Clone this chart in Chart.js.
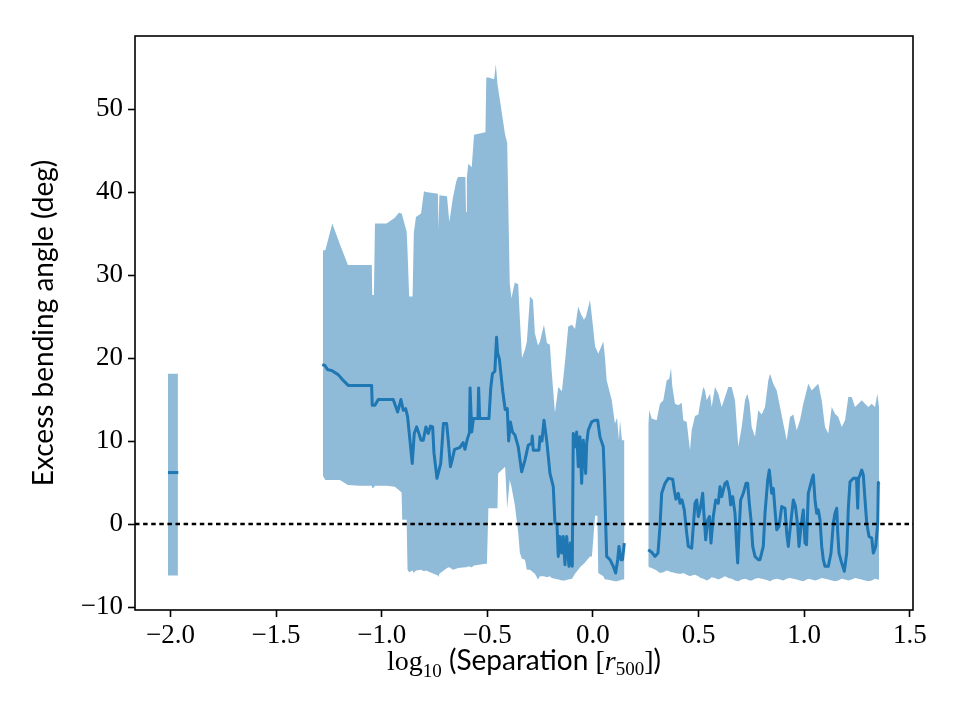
<!DOCTYPE html>
<html><head><meta charset="utf-8">
<script src="https://cdn.jsdelivr.net/npm/chart.js@4/dist/chart.umd.min.js"></script>
<style>html,body{margin:0;padding:0;background:#fff}</style>
</head><body>
<canvas id="c" width="960" height="720"></canvas>
<script>
// ---------- data (x = log10 separation, y = excess bending angle in deg) ----------
const bandAX = [-2.012, -1.965];
const bandAUpper = [18.1, 18.1];
const bandALower = [-6.2, -6.2];
const meanAX = [-2.012, -1.963];
const meanAY = [6.2, 6.2];

const bandBX = [-1.278,-1.267,-1.234,-1.198,-1.160,-1.103,-1.047,-1.045,-1.037,-1.032,-0.977,-0.938,-0.919,-0.906,-0.903,-0.882,-0.878,-0.870,-0.854,-0.848,-0.838,-0.814,-0.800,-0.791,-0.734,-0.732,-0.727,-0.691,-0.680,-0.663,-0.647,-0.639,-0.604,-0.601,-0.597,-0.590,-0.574,-0.563,-0.509,-0.505,-0.502,-0.495,-0.468,-0.460,-0.452,-0.449,-0.416,-0.406,-0.394,-0.386,-0.370,-0.354,-0.346,-0.336,-0.322,-0.313,-0.298,-0.284,-0.275,-0.260,-0.251,-0.232,-0.218,-0.204,-0.196,-0.180,-0.164,-0.147,-0.133,-0.117,-0.099,-0.085,-0.070,-0.057,-0.043,-0.033,-0.014,-0.005,0.010,0.021,0.025,0.049,0.057,0.065,0.089,0.104,0.114,0.123,0.128,0.137,0.149];
const bandBUpper = [33.0,33.0,36.2,33.7,31.2,31.2,31.2,27.6,27.6,36.2,36.2,36.9,37.5,37.4,37.2,35.2,33.0,27.4,27.4,35.1,37.0,37.4,40.1,40.0,39.8,35.5,39.6,39.5,36.4,39.3,41.3,41.8,41.8,37.6,41.8,43.4,43.0,46.9,47.2,53.8,53.8,53.8,53.6,55.4,53.0,52.5,46.9,45.9,29.0,27.2,29.1,28.9,24.7,20.0,21.0,22.0,27.4,27.0,23.0,21.5,22.0,24.0,21.8,21.6,18.6,13.4,16.5,16.0,19.4,23.8,24.0,23.5,26.2,25.3,24.6,25.0,27.0,25.0,21.4,20.8,20.5,22.0,20.0,17.3,14.9,12.1,12.8,10.1,12.5,10.1,10.1];
const bandBLower = [5.8,5.3,5.3,5.3,4.7,4.6,4.6,4.3,4.4,4.6,4.6,4.5,4.1,3.8,0.5,0.5,-5.5,-5.8,-5.6,-5.9,-5.6,-5.5,-5.7,-5.6,-6.2,-6.4,-6.0,-5.3,-5.2,-5.5,-5.4,-5.3,-5.2,-5.2,-5.2,-5.1,-5.2,-5.0,-4.8,-4.8,-4.8,1.9,1.9,1.9,1.9,6.1,6.9,1.9,5.3,4.5,2.3,-1.0,-3.5,-4.2,-4.3,-5.5,-5.5,-5.8,-6.0,-6.7,-6.3,-6.3,-6.4,-6.3,-6.5,-6.6,-6.7,-6.8,-6.8,-6.7,-6.6,-6.0,-5.5,-5.1,-4.8,-4.5,-3.9,-3.9,1.0,1.0,-5.9,-6.3,-6.7,-6.7,-6.8,-6.9,-6.9,-6.8,-6.8,-6.7,-6.7];

const meanBX = [-1.2817,-1.2689,-1.2562,-1.2372,-1.2060,-1.1823,-1.1586,-1.0478,-1.0450,-1.0322,-1.0166,-0.9455,-0.9247,-0.9091,-0.8982,-0.8868,-0.8774,-0.8665,-0.8556,-0.8461,-0.8348,-0.8239,-0.8144,-0.8035,-0.7907,-0.7798,-0.7694,-0.7590,-0.7528,-0.7386,-0.7206,-0.7079,-0.6927,-0.6851,-0.6747,-0.6667,-0.6553,-0.6307,-0.6146,-0.6061,-0.5952,-0.5848,-0.5819,-0.5739,-0.5658,-0.5445,-0.5412,-0.5365,-0.4924,-0.4839,-0.4759,-0.4645,-0.4564,-0.4517,-0.4432,-0.4271,-0.4157,-0.4058,-0.3991,-0.3911,-0.3812,-0.3693,-0.3537,-0.3376,-0.3220,-0.3063,-0.2902,-0.2874,-0.2827,-0.2557,-0.2509,-0.2415,-0.2320,-0.2192,-0.2036,-0.1880,-0.1799,-0.1705,-0.1643,-0.1563,-0.1482,-0.1406,-0.1326,-0.1245,-0.1136,-0.1065,-0.0980,-0.0933,-0.0819,-0.0772,-0.0696,-0.0616,-0.0535,-0.0459,-0.0346,-0.0298,-0.0223,-0.0062,0.0095,0.0223,0.0331,0.0488,0.0535,0.0601,0.0649,0.0805,0.0961,0.1075,0.1170,0.1231,0.1326,0.1397,0.1482];
const meanBY = [19.2,19.1,18.6,18.5,18.0,17.3,16.7,16.7,14.3,14.3,15.0,15.0,13.5,15.0,13.7,13.9,12.9,10.1,7.3,10.9,11.7,10.9,10.1,10.1,11.7,10.9,11.8,11.7,8.6,5.5,7.3,12.1,12.1,10.1,6.9,7.7,9.0,9.2,9.8,9.0,10.2,11.0,16.4,11.1,12.7,12.7,16.4,12.7,12.7,16.4,18.1,18.4,22.5,20.6,19.9,16.0,13.8,13.9,10.0,12.3,11.1,10.7,9.3,6.3,7.7,9.5,9.7,10.6,8.9,8.9,10.5,10.0,12.5,10.1,6.1,4.5,0.1,0.0,-3.9,-1.5,-3.5,-1.5,-4.9,-1.5,-5.1,-2.3,-5.1,10.9,9.3,11.1,6.9,10.5,4.9,10.1,6.1,9.7,11.3,12.3,12.5,12.5,10.5,9.3,6.1,0.1,-3.9,-4.3,-5.1,-5.9,-4.3,-2.7,-4.3,-4.3,-2.3];

const bandCX = [0.2618,0.2666,0.2779,0.3016,0.3172,0.3329,0.3490,0.3613,0.3693,0.3755,0.3883,0.4039,0.4200,0.4276,0.4437,0.4593,0.4673,0.4830,0.4986,0.5099,0.5223,0.5303,0.5384,0.5540,0.5620,0.5777,0.5933,0.6094,0.6250,0.6406,0.6567,0.6723,0.6880,0.7041,0.7197,0.7306,0.7410,0.7514,0.7670,0.7827,0.7988,0.8144,0.8300,0.8381,0.8537,0.8698,0.8854,0.9010,0.9171,0.9328,0.9484,0.9645,0.9801,0.9957,1.0194,1.0355,1.0511,1.0668,1.0829,1.0985,1.1141,1.1302,1.1458,1.1615,1.1776,1.1932,1.2088,1.2249,1.2405,1.2562,1.2723,1.2879,1.3035,1.3196,1.3352,1.3461,1.3542];
const bandCUpper = [12.0,13.7,12.7,12.5,14.5,14.9,17.3,17.5,18.8,16.6,14.5,14.3,14.6,12.5,12.3,8.9,11.3,13.0,13.2,14.9,16.5,16.1,14.9,15.7,14.1,16.5,15.7,14.1,15.3,16.5,16.5,14.9,9.3,11.7,14.9,15.7,14.6,11.7,10.5,13.7,13.2,14.1,17.3,18.1,16.9,16.1,14.1,12.1,10.1,12.9,13.2,11.3,12.5,14.5,16.9,16.1,16.5,16.9,14.9,11.7,10.9,14.1,13.3,12.9,11.7,12.5,15.3,15.3,14.1,14.5,14.9,14.5,14.1,14.5,14.1,15.7,14.1];
const bandCLower = [-5.1,-5.2,-5.3,-5.6,-5.9,-5.8,-5.6,-5.7,-5.8,-5.8,-5.9,-6.0,-6.0,-5.9,-6.1,-6.3,-6.2,-6.1,-6.3,-6.5,-6.6,-6.7,-6.8,-6.6,-6.4,-6.5,-6.7,-6.5,-6.3,-6.5,-6.6,-6.8,-6.9,-6.7,-6.6,-6.7,-6.8,-6.8,-6.6,-6.5,-6.6,-6.7,-6.8,-6.9,-6.7,-6.6,-6.7,-6.8,-6.6,-6.5,-6.6,-6.7,-6.8,-6.9,-6.6,-6.7,-6.8,-6.7,-6.5,-6.6,-6.7,-6.8,-6.9,-6.8,-6.6,-6.7,-6.8,-6.7,-6.5,-6.6,-6.7,-6.8,-6.9,-6.8,-6.6,-6.7,-6.7];

const meanCX = [0.2618,0.2779,0.2936,0.3078,0.3172,0.3253,0.3409,0.3565,0.3774,0.3849,0.3930,0.4039,0.4119,0.4214,0.4323,0.4437,0.4512,0.4673,0.4749,0.4830,0.4910,0.4986,0.5066,0.5147,0.5194,0.5256,0.5336,0.5431,0.5516,0.5587,0.5696,0.5810,0.5933,0.6013,0.6094,0.6250,0.6345,0.6454,0.6520,0.6615,0.6723,0.6804,0.6851,0.6927,0.6993,0.7116,0.7244,0.7325,0.7401,0.7481,0.7562,0.7670,0.7827,0.7907,0.8063,0.8144,0.8272,0.8348,0.8461,0.8537,0.8617,0.8698,0.8807,0.8935,0.9091,0.9171,0.9247,0.9328,0.9484,0.9588,0.9692,0.9754,0.9848,0.9957,1.0038,1.0109,1.0194,1.0275,1.0355,1.0431,1.0511,1.0592,1.0668,1.0748,1.0829,1.0904,1.0985,1.1141,1.1269,1.1378,1.1458,1.1539,1.1586,1.1648,1.1776,1.1899,1.2012,1.2088,1.2169,1.2325,1.2476,1.2533,1.2571,1.2642,1.2723,1.2798,1.2879,1.2959,1.3068,1.3196,1.3272,1.3385,1.3480,1.3509,1.3542];
const meanCY = [-3.1,-3.4,-3.9,-3.5,-0.3,3.7,4.9,5.5,5.4,4.1,3.0,3.7,2.5,2.9,1.7,-1.1,-2.7,-2.9,-0.3,2.5,2.9,0.9,1.7,2.9,3.7,1.1,-1.9,0.5,0.9,-2.3,0.9,2.9,2.5,4.5,3.3,4.9,5.1,3.9,2.3,3.3,1.3,-2.7,-4.7,-0.3,2.9,3.7,4.9,4.9,2.5,0.5,-2.7,-3.9,-4.3,-4.3,-2.7,1.3,5.3,6.5,3.7,4.3,1.7,-0.7,-0.3,2.1,1.9,-1.1,-2.7,-0.7,2.9,2.1,-0.3,-2.7,-0.3,1.7,-2.3,-2.5,3.7,4.5,5.3,5.9,2.9,1.3,1.7,0.5,-2.7,-4.3,-5.1,-5.1,-3.5,0.1,1.3,1.9,-1.0,-3.5,-4.7,-5.7,-3.5,1.9,5.1,5.5,5.5,1.9,5.5,5.9,6.5,5.9,2.9,0.1,-1.5,-1.7,-3.5,-2.7,0.1,5.0,4.8];

const zeroLineX = [-2.168, 1.515];
const zeroLineY = [0, 0];

const xTicks = [-2.0, -1.5, -1.0, -0.5, 0.0, 0.5, 1.0, 1.5];
const yTicks = [-10, 0, 10, 20, 30, 40, 50];
const xRange = [-2.168, 1.515];
const yRange = [-10.36, 58.8];

// ---------- helpers ----------
const pts = (xs, ys) => xs.map((x, i) => ({x: x, y: ys[i]}));
const minus = s => String(s).replace('-', '\u2212');
const BLUE = '#1f77b4';
const BAND = 'rgba(31,119,180,0.5)';

function bandPair(xs, up, lo) {
  return [
    {data: pts(xs, up), borderWidth: 0, backgroundColor: BAND, fill: '+1', order: 3},
    {data: pts(xs, lo), borderWidth: 0, backgroundColor: BAND, fill: false, order: 3}
  ];
}
function meanLine(xs, ys) {
  return {data: pts(xs, ys), borderColor: BLUE, borderWidth: 3, fill: false, order: 2,
          borderJoinStyle: 'round', borderCapStyle: 'butt'};
}

const datasets = [
  ...bandPair(bandAX, bandAUpper, bandALower),
  ...bandPair(bandBX, bandBUpper, bandBLower),
  ...bandPair(bandCX, bandCUpper, bandCLower),
  meanLine(meanAX, meanAY),
  meanLine(meanBX, meanBY),
  meanLine(meanCX, meanCY),
  {data: pts(zeroLineX, zeroLineY), borderColor: '#000', borderWidth: 2.6, borderDash: [4.5, 3.6],
   fill: false, order: 1}
];

const SERIF = '"Liberation Serif", "DejaVu Serif", serif';
const SANS = 'Lato, "Open Sans", sans-serif';

const framePlugin = {
  id: 'frame',
  afterDatasetsDraw(chart) {
    const a = chart.chartArea, ctx = chart.ctx;
    ctx.save();
    ctx.strokeStyle = '#000';
    ctx.lineWidth = 1.6;
    ctx.strokeRect(a.left, a.top, a.right - a.left, a.bottom - a.top);
    ctx.restore();
  }
};

const titlesPlugin = {
  id: 'titles',
  afterDraw(chart) {
    const ctx = chart.ctx, a = chart.chartArea;
    ctx.save();
    ctx.fillStyle = '#000';
    ctx.textBaseline = 'alphabetic';
    // x title : log10 (Separation [r500])
    const parts = [
      {t: 'log', f: '28px ' + SERIF, dy: 0},
      {t: '10', f: '19px ' + SERIF, dy: 7},
      {t: ' (Separation ', f: '28px ' + SANS, dy: 0},
      {t: '[', f: '28px ' + SERIF, dy: 0},
      {t: 'r', f: 'italic 28px ' + SERIF, dy: 0},
      {t: '500', f: '19px ' + SERIF, dy: 5},
      {t: ']', f: '28px ' + SERIF, dy: 0},
      {t: ')', f: '28px ' + SANS, dy: 0}
    ];
    let total = 0;
    parts.forEach(p => { ctx.font = p.f; p.w = ctx.measureText(p.t).width; total += p.w; });
    let x = (a.left + a.right) / 2 - total / 2;
    const base = 670;
    ctx.textAlign = 'left';
    parts.forEach(p => { ctx.font = p.f; ctx.fillText(p.t, x, base + p.dy); x += p.w; });
    // y title
    ctx.translate(53, (a.top + a.bottom) / 2);
    ctx.rotate(-Math.PI / 2);
    ctx.font = '28px ' + SANS;
    ctx.textAlign = 'center';
    ctx.fillText('Excess bending angle (deg)', 0, 0);
    ctx.restore();
  }
};

new Chart(document.getElementById('c'), {
  type: 'line',
  data: {datasets: datasets},
  plugins: [framePlugin, titlesPlugin],
  options: {
    responsive: false,
    devicePixelRatio: 1,
    animation: false,
    layout: {padding: {top: 36, right: 47, left: 0, bottom: 0}},
    plugins: {legend: {display: false}, tooltip: {enabled: false}},
    elements: {point: {radius: 0}, line: {tension: 0}},
    scales: {
      x: {
        type: 'linear', min: xRange[0], max: xRange[1],
        afterBuildTicks: s => { s.ticks = xTicks.map(v => ({value: v})); },
        afterFit: s => { s.height = 110; },
        ticks: {color: '#000', font: {family: SERIF, size: 27}, padding: 3,
                callback: v => minus(Number(v).toFixed(1)), maxRotation: 0, autoSkip: false},
        grid: {drawOnChartArea: false, drawTicks: true, tickLength: 7, tickColor: '#000', tickWidth: 1.6},
        border: {display: false}
      },
      y: {
        type: 'linear', min: yRange[0], max: yRange[1],
        afterBuildTicks: s => { s.ticks = yTicks.map(v => ({value: v})); },
        afterFit: s => { s.width = 135; },
        ticks: {color: '#000', font: {family: SERIF, size: 27}, padding: 5,
                callback: v => minus(v), autoSkip: false},
        grid: {drawOnChartArea: false, drawTicks: true, tickLength: 7, tickColor: '#000', tickWidth: 1.6},
        border: {display: false}
      }
    }
  }
});
</script>
</body></html>
